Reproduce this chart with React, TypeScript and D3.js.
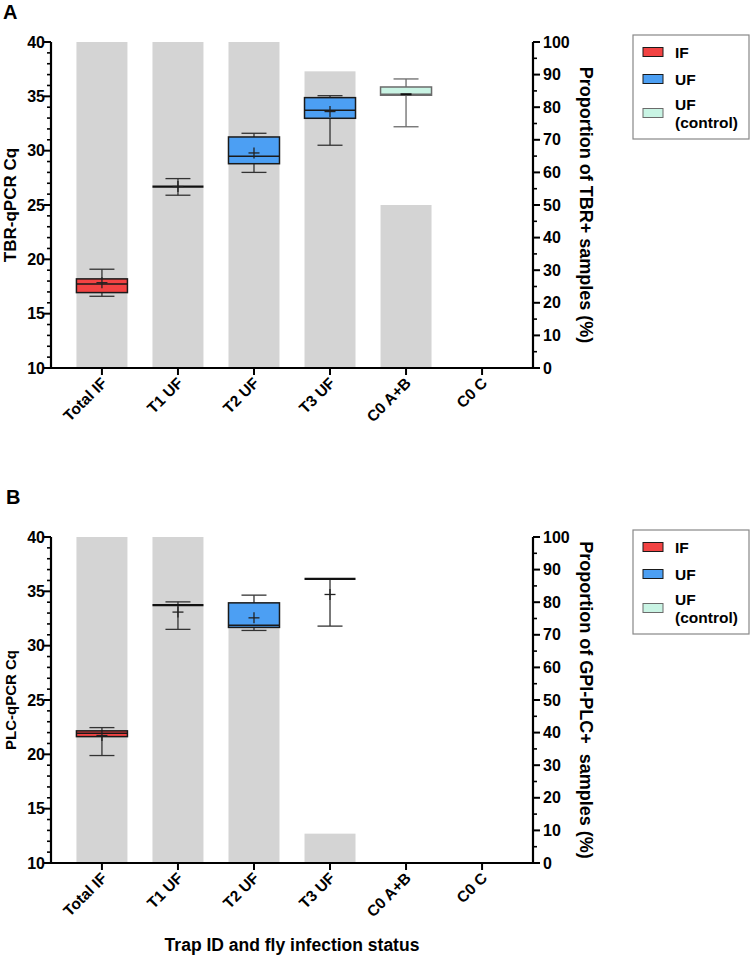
import React from "react";
import * as d3 from "d3";

const categories = ["Total IF", "T1 UF", "T2 UF", "T3 UF", "C0 A+B", "C0 C"];
const groups = ["IF", "UF", "UF", "UF", "control", "control"];

const legendKeys = ["IF", "UF", "control"];
const legendLabels = [["IF"], ["UF"], ["UF", "(control)"]];

const leftTicks = [10, 15, 20, 25, 30, 35, 40];
const rightTicks = [0, 10, 20, 30, 40, 50, 60, 70, 80, 90, 100];

// Panel A (TBR-qPCR)
const aPct = [100, 100, 100, 91, 50, 0];
const aMin = [16.6, 25.9, 28.0, 30.5, 32.2, null];
const aQ1 = [16.94, 26.7, 28.8, 32.98, 35.1, null];
const aMed = [17.74, 26.7, 29.49, 33.72, 35.19, null];
const aQ3 = [18.2, 26.7, 31.26, 34.88, 35.86, null];
const aMax = [19.09, 27.43, 31.6, 35.06, 36.6, null];
const aMean = [17.85, 26.7, 29.79, 33.6, 35.19, null];

// Panel B (PLC-qPCR)
const bPct = [100, 100, 75, 9, 0, 0];
const bMin = [19.89, 31.5, 31.4, 31.8, null, null];
const bQ1 = [21.63, 33.73, 31.68, 36.14, null, null];
const bMed = [21.95, 33.73, 31.89, 36.14, null, null];
const bQ3 = [22.16, 33.73, 33.94, 36.14, null, null];
const bMax = [22.46, 34.03, 34.65, 36.14, null, null];
const bMean = [21.73, 33.09, 32.56, 34.71, null, null];

const fills: Record<string, string> = { IF: "#f24343", UF: "#4c9ff3", control: "#c9f4e4" };
const strokes: Record<string, string> = { IF: "#1a1a1a", UF: "#1a1a1a", control: "#6b6b6b" };
const GRAY = "#d4d4d4";
const FONT = "'Liberation Sans', Arial, Helvetica, sans-serif";

type PanelProps = {
  top: number;
  bottom: number;
  label: string;
  labelY: number;
  leftTitle: string;
  leftTitleSize: number;
  rightTitle: string;
  pct: number[];
  mins: (number | null)[];
  q1s: (number | null)[];
  meds: (number | null)[];
  q3s: (number | null)[];
  maxs: (number | null)[];
  means: (number | null)[];
  showXTitle: boolean;
};

const LEFT = 51;
const RIGHT = 533;

function Panel(p: PanelProps) {
  const x = d3.scalePoint<string>().domain(categories).range([LEFT, RIGHT]).padding(0.67);
  const y = d3.scaleLinear().domain([10, 40]).range([p.bottom, p.top]);
  const yr = d3.scaleLinear().domain([0, 100]).range([p.bottom, p.top]);
  const barW = 51;
  const hw = barW / 2;
  const capHW = 12.5;
  const plusHW = 5.5;
  const minorLeft = d3.range(10, 41, 1).filter((v) => v % 5 !== 0);
  const minorRight = d3.range(5, 100, 10);
  const legTop = p.top - 7;

  return (
    <g>
      <text x={p.label === "A" ? 3 : 6} y={p.labelY} fontSize={20} fontWeight="bold" fontFamily={FONT}>
        {p.label}
      </text>
      {/* gray proportion bars */}
      {categories.map((c, i) =>
        p.pct[i] > 0 ? (
          <rect key={"bar" + c} x={x(c)! - hw} y={yr(p.pct[i])} width={barW} height={yr(0) - yr(p.pct[i])} fill={GRAY} />
        ) : null
      )}
      {/* box plots */}
      {categories.map((c, i) => {
        if (p.q1s[i] == null) return null;
        const cx = x(c)!;
        const g = groups[i];
        const st = strokes[g];
        const wc = g === "control" ? "#6b6b6b" : "#333";
        const q1 = p.q1s[i] as number;
        const q3 = p.q3s[i] as number;
        const med = p.meds[i] as number;
        const mn = p.mins[i] as number;
        const mx = p.maxs[i] as number;
        const mean = p.means[i] as number;
        return (
          <g key={"box" + c}>
            <line x1={cx} x2={cx} y1={y(mn)} y2={y(mx)} stroke={wc} strokeWidth={1.3} />
            <line x1={cx - capHW} x2={cx + capHW} y1={y(mn)} y2={y(mn)} stroke={wc} strokeWidth={1.3} />
            <line x1={cx - capHW} x2={cx + capHW} y1={y(mx)} y2={y(mx)} stroke={wc} strokeWidth={1.3} />
            {q3 > q1 ? (
              <>
                <rect x={cx - hw} y={y(q3)} width={barW} height={y(q1) - y(q3)} fill={fills[g]} stroke={st} strokeWidth={1.5} />
                <line x1={cx - hw} x2={cx + hw} y1={y(med)} y2={y(med)} stroke={st} strokeWidth={1.5} />
              </>
            ) : (
              <line x1={cx - hw} x2={cx + hw} y1={y(med)} y2={y(med)} stroke="#111" strokeWidth={2.2} />
            )}
            {g === "control" ? (
              <line x1={cx - plusHW} x2={cx + plusHW} y1={y(mean)} y2={y(mean)} stroke="#111" strokeWidth={2} />
            ) : (
              <>
                <line x1={cx - plusHW} x2={cx + plusHW} y1={y(mean)} y2={y(mean)} stroke="#222" strokeWidth={1.3} />
                <line x1={cx} x2={cx} y1={y(mean) - plusHW} y2={y(mean) + plusHW} stroke="#222" strokeWidth={1.3} />
              </>
            )}
          </g>
        );
      })}
      {/* axes */}
      <line x1={LEFT} x2={LEFT} y1={p.top} y2={p.bottom + 1} stroke="#000" strokeWidth={2.2} />
      <line x1={RIGHT} x2={RIGHT} y1={p.top} y2={p.bottom + 1} stroke="#000" strokeWidth={2.2} />
      <line x1={LEFT - 1} x2={RIGHT + 1} y1={p.bottom} y2={p.bottom} stroke="#000" strokeWidth={2.2} />
      {leftTicks.map((t) => (
        <g key={"lt" + t}>
          <line x1={LEFT - 7} x2={LEFT} y1={y(t)} y2={y(t)} stroke="#000" strokeWidth={2} />
          <text x={LEFT - 6} y={y(t)} dy="0.35em" textAnchor="end" fontSize={16} fontWeight="bold" fontFamily={FONT}>
            {t}
          </text>
        </g>
      ))}
      {minorLeft.map((t) => (
        <line key={"lm" + t} x1={LEFT - 4} x2={LEFT} y1={y(t)} y2={y(t)} stroke="#000" strokeWidth={1.6} />
      ))}
      {rightTicks.map((t) => (
        <g key={"rt" + t}>
          <line x1={RIGHT} x2={RIGHT + 7} y1={yr(t)} y2={yr(t)} stroke="#000" strokeWidth={2} />
          <text x={RIGHT + 10} y={yr(t)} dy="0.35em" textAnchor="start" fontSize={16} fontWeight="bold" fontFamily={FONT}>
            {t}
          </text>
        </g>
      ))}
      {minorRight.map((t) => (
        <line key={"rm" + t} x1={RIGHT} x2={RIGHT + 4} y1={yr(t)} y2={yr(t)} stroke="#000" strokeWidth={1.6} />
      ))}
      {categories.map((c) => (
        <g key={"xt" + c}>
          <line x1={x(c)!} x2={x(c)!} y1={p.bottom} y2={p.bottom + 7} stroke="#000" strokeWidth={2} />
          <text
            transform={`translate(${x(c)! + 6},${p.bottom + 16}) rotate(-45)`}
            textAnchor="end"
            fontSize={15.5}
            fontWeight="bold"
            fontFamily={FONT}
          >
            {c}
          </text>
        </g>
      ))}
      {/* titles */}
      <text
        transform={`translate(16,${(p.top + p.bottom) / 2}) rotate(-90)`}
        textAnchor="middle"
        fontSize={p.leftTitleSize}
        fontWeight="bold"
        fontFamily={FONT}
      >
        {p.leftTitle}
      </text>
      <text
        transform={`translate(580,${(p.top + p.bottom) / 2}) rotate(90)`}
        textAnchor="middle"
        fontSize={18}
        fontWeight="bold"
        fontFamily={FONT}
        style={{ whiteSpace: "pre" }}
      >
        {p.rightTitle}
      </text>
      {p.showXTitle ? (
        <text x={(LEFT + RIGHT) / 2} y={p.bottom + 88} textAnchor="middle" fontSize={17.5} fontWeight="bold" fontFamily={FONT}>
          Trap ID and fly infection status
        </text>
      ) : null}
      {/* legend */}
      <rect x={633} y={legTop} width={116} height={104} fill="#fff" stroke="#888" strokeWidth={1.2} />
      {legendKeys.map((k, i) => {
        const cy = legTop + [17, 44, 78][i];
        const lines = legendLabels[i];
        return (
          <g key={"lg" + k}>
            <rect x={643} y={cy - 4.5} width={20} height={9} fill={fills[k]} stroke={strokes[k]} strokeWidth={1} />
            {lines.length === 1 ? (
              <text x={675} y={cy} dy="0.36em" fontSize={15.5} fontWeight="bold" fontFamily={FONT}>
                {lines[0]}
              </text>
            ) : (
              <text x={675} y={cy - 8.5} dy="0.36em" fontSize={15.5} fontWeight="bold" fontFamily={FONT}>
                <tspan x={675}>{lines[0]}</tspan>
                <tspan x={675} dy="17.5">
                  {lines[1]}
                </tspan>
              </text>
            )}
          </g>
        );
      })}
    </g>
  );
}

export default function App() {
  return (
    <svg width={750} height={959} style={{ position: "absolute", left: 0, top: 0, background: "#fff" }}>
      <rect width={750} height={959} fill="#fff" />
      <Panel
        top={42}
        bottom={368}
        label="A"
        labelY={19}
        leftTitle="TBR-qPCR Cq"
        leftTitleSize={17}
        rightTitle="Proportion of TBR+ samples (%)"
        pct={aPct}
        mins={aMin}
        q1s={aQ1}
        meds={aMed}
        q3s={aQ3}
        maxs={aMax}
        means={aMean}
        showXTitle={false}
      />
      <Panel
        top={537}
        bottom={863}
        label="B"
        labelY={504}
        leftTitle="PLC-qPCR Cq"
        leftTitleSize={15}
        rightTitle="Proportion of GPI-PLC+  samples (%)"
        pct={bPct}
        mins={bMin}
        q1s={bQ1}
        meds={bMed}
        q3s={bQ3}
        maxs={bMax}
        means={bMean}
        showXTitle={true}
      />
    </svg>
  );
}
